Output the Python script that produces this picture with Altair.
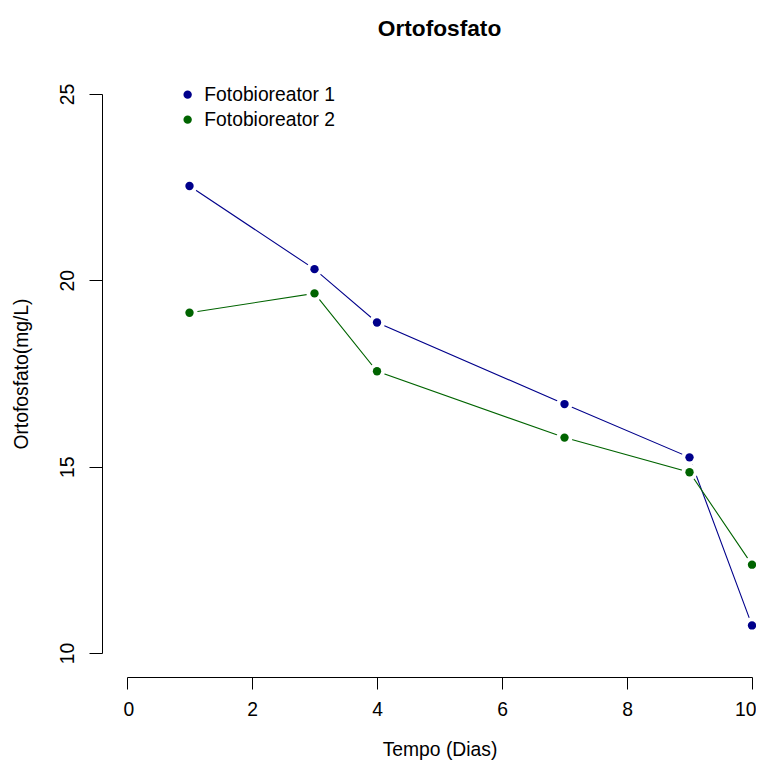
import altair as alt
import pandas as pd

dias = [1, 3, 4, 7, 9, 10]
fb1 = [22.53, 20.30, 18.87, 16.68, 15.25, 10.74]
fb2 = [19.13, 19.65, 17.56, 15.78, 14.85, 12.37]
series = ["Fotobioreator 1", "Fotobioreator 2"]
colors = ["#00008B", "#006400"]

rows = []
for s, vals in zip(series, [fb1, fb2]):
    for d, v in zip(dias, vals):
        rows.append({"Dia": d, "Valor": v, "Serie": s})
df = pd.DataFrame(rows)

FONT = "Liberation Sans"
FS = 19.3

x = alt.X("Dia:Q", scale=alt.Scale(domain=[0, 10], nice=False, zero=False),
          axis=alt.Axis(title="Tempo (Dias)", values=[0, 2, 4, 6, 8, 10], grid=False,
                        offset=24, tickSize=12, labelPadding=11, titlePadding=21,
                        labelFontSize=FS, titleFontSize=FS, titleFontWeight="normal",
                        labelFont=FONT, titleFont=FONT, labelColor="black", titleColor="black",
                        domainColor="black", tickColor="black",
                        labelFlush=True, labelFlushOffset=4))
y = alt.Y("Valor:Q", scale=alt.Scale(domain=[10, 25], nice=False, zero=False),
          axis=alt.Axis(title="Ortofosfato(mg/L)", values=[10, 15, 20, 25], grid=False,
                        offset=25, tickSize=13, labelAngle=270, labelAlign="center",
                        labelBaseline="bottom", labelPadding=12, titlePadding=27,
                        labelFontSize=FS, titleFontSize=FS, titleFontWeight="normal",
                        labelFont=FONT, titleFont=FONT, labelColor="black", titleColor="black",
                        domainColor="black", tickColor="black", labelFlush=False))
color = alt.Color("Serie:N", scale=alt.Scale(domain=series, range=colors),
                  legend=alt.Legend(title=None, orient="none", legendX=51, legendY=-9,
                                    labelFontSize=FS, labelFont=FONT, labelColor="black",
                                    symbolType="circle", symbolSize=70, symbolStrokeWidth=0,
                                    rowPadding=5, labelOffset=7))

base = alt.Chart(df)
lines = base.mark_line(strokeWidth=1.1, clip=False).encode(x=x, y=y, color=color, detail="Serie:N")
halo = base.mark_point(filled=True, size=260, color="white", opacity=1, clip=False).encode(x=x, y=y)
pts = base.mark_point(filled=True, size=70, opacity=1, clip=False).encode(x=x, y=y, color=color)

chart = alt.layer(lines, halo, pts).properties(
    width=625, height=559,
    title=alt.TitleParams("Ortofosfato", fontSize=22.7, font=FONT, fontWeight="bold",
                          anchor="middle", frame="group", offset=43, color="black"),
    autosize=alt.AutoSizeParams(type="none"),
    padding={"left": 119, "top": 86, "right": 4, "bottom": 108},
).configure_view(stroke=None)

chart.save("out.html", embed_options={"renderer": "svg", "actions": False})
